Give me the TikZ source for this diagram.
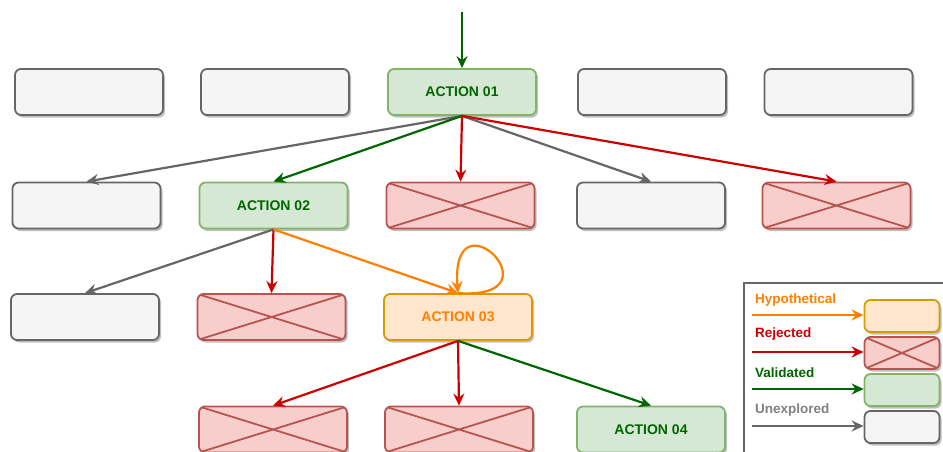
\documentclass[tikz,border=0pt]{standalone}
\usepackage{fontspec}
\setmainfont{Liberation Sans}
\usetikzlibrary{arrows.meta,shadows}

\definecolor{unexpFill}{HTML}{F5F5F5}
\definecolor{unexpLine}{HTML}{666666}
\definecolor{validFill}{HTML}{D5E8D4}
\definecolor{validLine}{HTML}{82B366}
\definecolor{validText}{HTML}{006600}
\definecolor{rejFill}{HTML}{F8CECC}
\definecolor{rejLine}{HTML}{B85450}
\definecolor{rejArrow}{HTML}{CC0000}
\definecolor{hypoFill}{HTML}{FFE6CC}
\definecolor{hypoLine}{HTML}{D79B00}
\definecolor{hypoText}{HTML}{FF8000}
\definecolor{legendText}{HTML}{808080}

\tikzset{
  box/.style={rounded corners=6pt, draw, line width=1.8pt,
    minimum width=148pt, minimum height=46pt, inner sep=0pt,
    font=\fontsize{14}{16}\selectfont\bfseries,
    drop shadow={shadow xshift=2pt, shadow yshift=-2.5pt, opacity=0.25, fill=black}},
  smallbox/.style={box, minimum width=75pt, minimum height=32pt},
  unexp/.style={fill=unexpFill, draw=unexpLine},
  valid/.style={fill=validFill, draw=validLine, text=validText},
  hypo/.style={fill=hypoFill, draw=hypoLine, text=hypoText},
  rej/.style={fill=rejFill, draw=rejLine,
    path picture={\draw[rejLine, line width=1.8pt]
      (path picture bounding box.north west) -- (path picture bounding box.south east)
      (path picture bounding box.south west) -- (path picture bounding box.north east);}},
  link/.style={line width=2.2pt, -{Stealth[length=12pt, width=11pt, inset=4pt]}},
  glink/.style={link, draw=validText},
  rlink/.style={link, draw=rejArrow},
  olink/.style={link, draw=hypoText},
  ulink/.style={link, draw=unexpLine},
  legendlabel/.style={anchor=west, inner sep=0pt, font=\fontsize{13.5}{15}\selectfont\bfseries},
}

\begin{document}
\begin{tikzpicture}[x=1pt, y=-1pt]
\useasboundingbox (0,0) rectangle (943,452);

% row 1
\node[box, unexp] (r1a) at (89,92) {};
\node[box, unexp] (r1b) at (275,92) {};
\node[box, valid] (a1) at (462,92) {ACTION 01};
\node[box, unexp] (r1d) at (652,92) {};
\node[box, unexp] (r1e) at (838.5,92) {};

% row 2
\node[box, unexp] (r2a) at (86.5,205.5) {};
\node[box, valid] (a2) at (273.5,205.5) {ACTION 02};
\node[box, rej] (r2c) at (460.5,205.5) {};
\node[box, unexp] (r2d) at (651,205.5) {};
\node[box, rej] (r2e) at (836.5,205.5) {};

% row 3
\node[box, unexp] (r3a) at (85,317) {};
\node[box, rej] (r3b) at (271.5,317) {};
\node[box, hypo] (a3) at (458,317) {ACTION 03};

% row 4
\node[box, rej] (r4a) at (273,429.5) {};
\node[box, rej] (r4b) at (459,429.5) {};
\node[box, valid] (a4) at (651,429.5) {ACTION 04};

% entry
\coordinate (start) at (462,12);
\draw[glink] (start) -- (a1.north);

% from ACTION 01
\draw[ulink] (a1.south) -- (r2a.north);
\draw[glink] (a1.south) -- (a2.north);
\draw[rlink] (a1.south) -- (r2c.north);
\draw[ulink] (a1.south) -- (r2d.north);
\draw[rlink] (a1.south) -- (r2e.north);

% from ACTION 02
\draw[ulink] (a2.south) -- (r3a.north);
\draw[rlink] (a2.south) -- (r3b.north);
\draw[olink] (a2.south) -- (a3.north);

% self loop on ACTION 03
\draw[olink] (a3.north) .. controls +(105,7) and +(-8,-105) .. (a3.north);

% from ACTION 03
\draw[rlink] (a3.south) -- (r4a.north);
\draw[rlink] (a3.south) -- (r4b.north);
\draw[glink] (a3.south) -- (a4.north);

% legend
\draw[unexpLine, line width=1.2pt] (744,283) rectangle (960,470);
\node[smallbox, hypo] (lh) at (902,316) {};
\node[smallbox, rej] (lr) at (902,353) {};
\node[smallbox, valid] (lv) at (902,390) {};
\node[smallbox, unexp] (lu) at (902,427) {};

\node[legendlabel, text=hypoText] (th) at (755,300.5) {Hypothetical};
\node[legendlabel, text=rejArrow] (tr) at (755,334.5) {Rejected};
\node[legendlabel, text=validText] (tv) at (755,372.5) {Validated};
\node[legendlabel, text=legendText] (tu) at (755,410) {Unexplored};

\coordinate (sh) at (752,315);
\coordinate (sr) at (752,352);
\coordinate (sv) at (752,389);
\coordinate (su) at (752,426);
\draw[olink] (sh) -- (sh -| lh.west);
\draw[rlink] (sr) -- (sr -| lr.west);
\draw[glink] (sv) -- (sv -| lv.west);
\draw[ulink] (su) -- (su -| lu.west);
\end{tikzpicture}
\end{document}
